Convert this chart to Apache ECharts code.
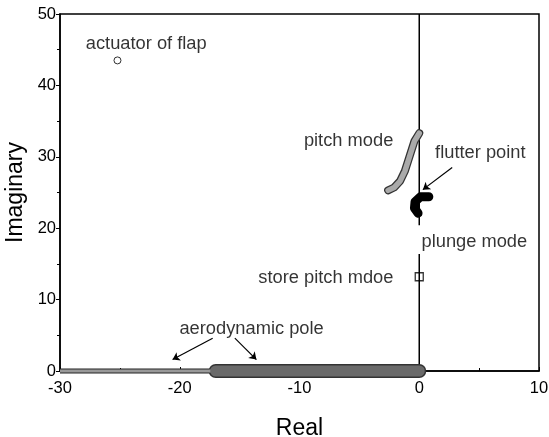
<!DOCTYPE html>
<html><head><meta charset="utf-8">
<script src="https://cdn.jsdelivr.net/npm/echarts@6/dist/echarts.min.js"></script>
<style>html,body{margin:0;padding:0;background:#fff}#c{width:549px;height:437px}</style>
</head><body><div id="c"></div>
<script>
// Tick labels
var xTicks = [-30, -20, -10, 0, 10];
var yTicks = [0, 10, 20, 30, 40, 50];
// Root-locus branches (real, imaginary)
var aeroThin = [[-30, 0], [-17, 0]];
var aeroThick = [[-17, 0], [0, 0]];
var plungeLower = [[0, 0], [0, 16.4]];
var plungeUpper = [[0, 20.4], [0, 50]];
var pitchMode = [[0, 33.3], [-0.4, 32.2], [-0.8, 30.1], [-1.2, 28], [-1.6, 26.6], [-2.1, 25.7], [-2.6, 25.3]];
var flutter = [[0.8, 24.4], [0.1, 24.4], [-0.35, 23.7], [-0.4, 22.8], [-0.1, 22.1]];
var actuator = [[-25.2, 43.5]];
var storePitch = [[0, 13.2]];
// Annotations: [x, y, text]
var notes = [
  [-22.8, 45.8, 'actuator of flap'],
  [-5.9, 32.2, 'pitch mode'],
  [5.1, 30.6, 'flutter point'],
  [4.6, 18.1, 'plunge mode'],
  [-7.8, 13.0, 'store pitch mdoe'],
  [-14.0, 5.9, 'aerodynamic pole']
];
// Arrows: [[x1,y1],[x2,y2]]
var arrows = [
  [[-17.25, 4.6], [-20.6, 1.6]],
  [[-15.4, 4.6], [-13.6, 1.6]],
  [[2.75, 28.5], [0.3, 25.4]]
];

var FONT = 'Liberation Sans, Arial, sans-serif';
var chart = echarts.init(document.getElementById('c'));
function ln(data, w, color, z, cap) {
  return {type: 'line', data: data, symbol: 'none', clip: false, z: z, silent: true,
    lineStyle: {width: w, color: color, cap: cap || 'butt', join: 'round'}};
}
chart.setOption({
  animation: false,
  backgroundColor: '#fff',
  grid: {left: 60, right: 10, top: 14, bottom: 66, show: true, borderColor: '#000', borderWidth: 1.5,
    containLabel: false, outerBoundsMode: 'none'},
  xAxis: {
    type: 'value', min: xTicks[0], max: xTicks[xTicks.length - 1], interval: 10,
    name: 'Real', nameLocation: 'middle', nameGap: 46,
    nameTextStyle: {fontFamily: FONT, fontSize: 23, color: '#000'},
    axisLine: {show: true, onZero: false, lineStyle: {color: '#000', width: 1.5}},
    axisTick: {show: true, length: 4, inside: true, lineStyle: {color: '#000'}},
    minorTick: {show: true, splitNumber: 2, length: 3, lineStyle: {color: '#000'}},
    axisLabel: {fontFamily: FONT, fontSize: 16.5, color: '#000', margin: 9},
    splitLine: {show: false}
  },
  yAxis: {
    type: 'value', min: yTicks[0], max: yTicks[yTicks.length - 1], interval: 10,
    name: 'Imaginary', nameLocation: 'middle', nameGap: 26,
    nameTextStyle: {fontFamily: FONT, fontSize: 23, color: '#000'},
    axisLine: {show: true, onZero: false, lineStyle: {color: '#000', width: 1.5}},
    axisTick: {show: true, length: 4, lineStyle: {color: '#000'}},
    minorTick: {show: true, splitNumber: 2, length: 3, lineStyle: {color: '#000'}},
    axisLabel: {fontFamily: FONT, fontSize: 16.5, color: '#000', margin: 4},
    splitLine: {show: false}
  },
  series: [
    ln(plungeLower, 1.5, '#000', 2),
    ln(plungeUpper, 1.5, '#000', 2),
    ln(aeroThin, 5, '#222', 3),
    ln(aeroThin, 3, '#999', 4),
    ln(aeroThick, 14, '#333', 3, 'round'),
    ln(aeroThick, 11, '#6a6a6a', 4, 'round'),
    ln(pitchMode, 8, '#333', 3, 'round'),
    ln(pitchMode, 5.5, '#aaa', 4, 'round'),
    ln(flutter, 9, '#000', 4, 'round'),
    {type: 'scatter', data: actuator, symbol: 'circle', symbolSize: 7, z: 5,
      itemStyle: {color: '#fff', borderColor: '#000', borderWidth: 1}},
    {type: 'scatter', data: storePitch, symbol: 'rect', symbolSize: 8, z: 5,
      itemStyle: {color: 'rgba(0,0,0,0)', borderColor: '#000', borderWidth: 1.3}},
    {type: 'scatter', symbolSize: 0, z: 6, silent: true,
      data: notes.map(function (n) { return {value: [n[0], n[1]], name: n[2]}; }),
      label: {show: true, position: 'inside', formatter: '{b}', fontFamily: FONT, fontSize: 18.3, color: '#000'}},
    {type: 'lines', coordinateSystem: 'cartesian2d', z: 6, silent: true,
      symbol: ['none', 'arrow'], symbolSize: 7,
      data: arrows.map(function (a) { return {coords: a}; }),
      lineStyle: {color: '#000', width: 1.2, opacity: 1}}
  ]
});
</script></body></html>
